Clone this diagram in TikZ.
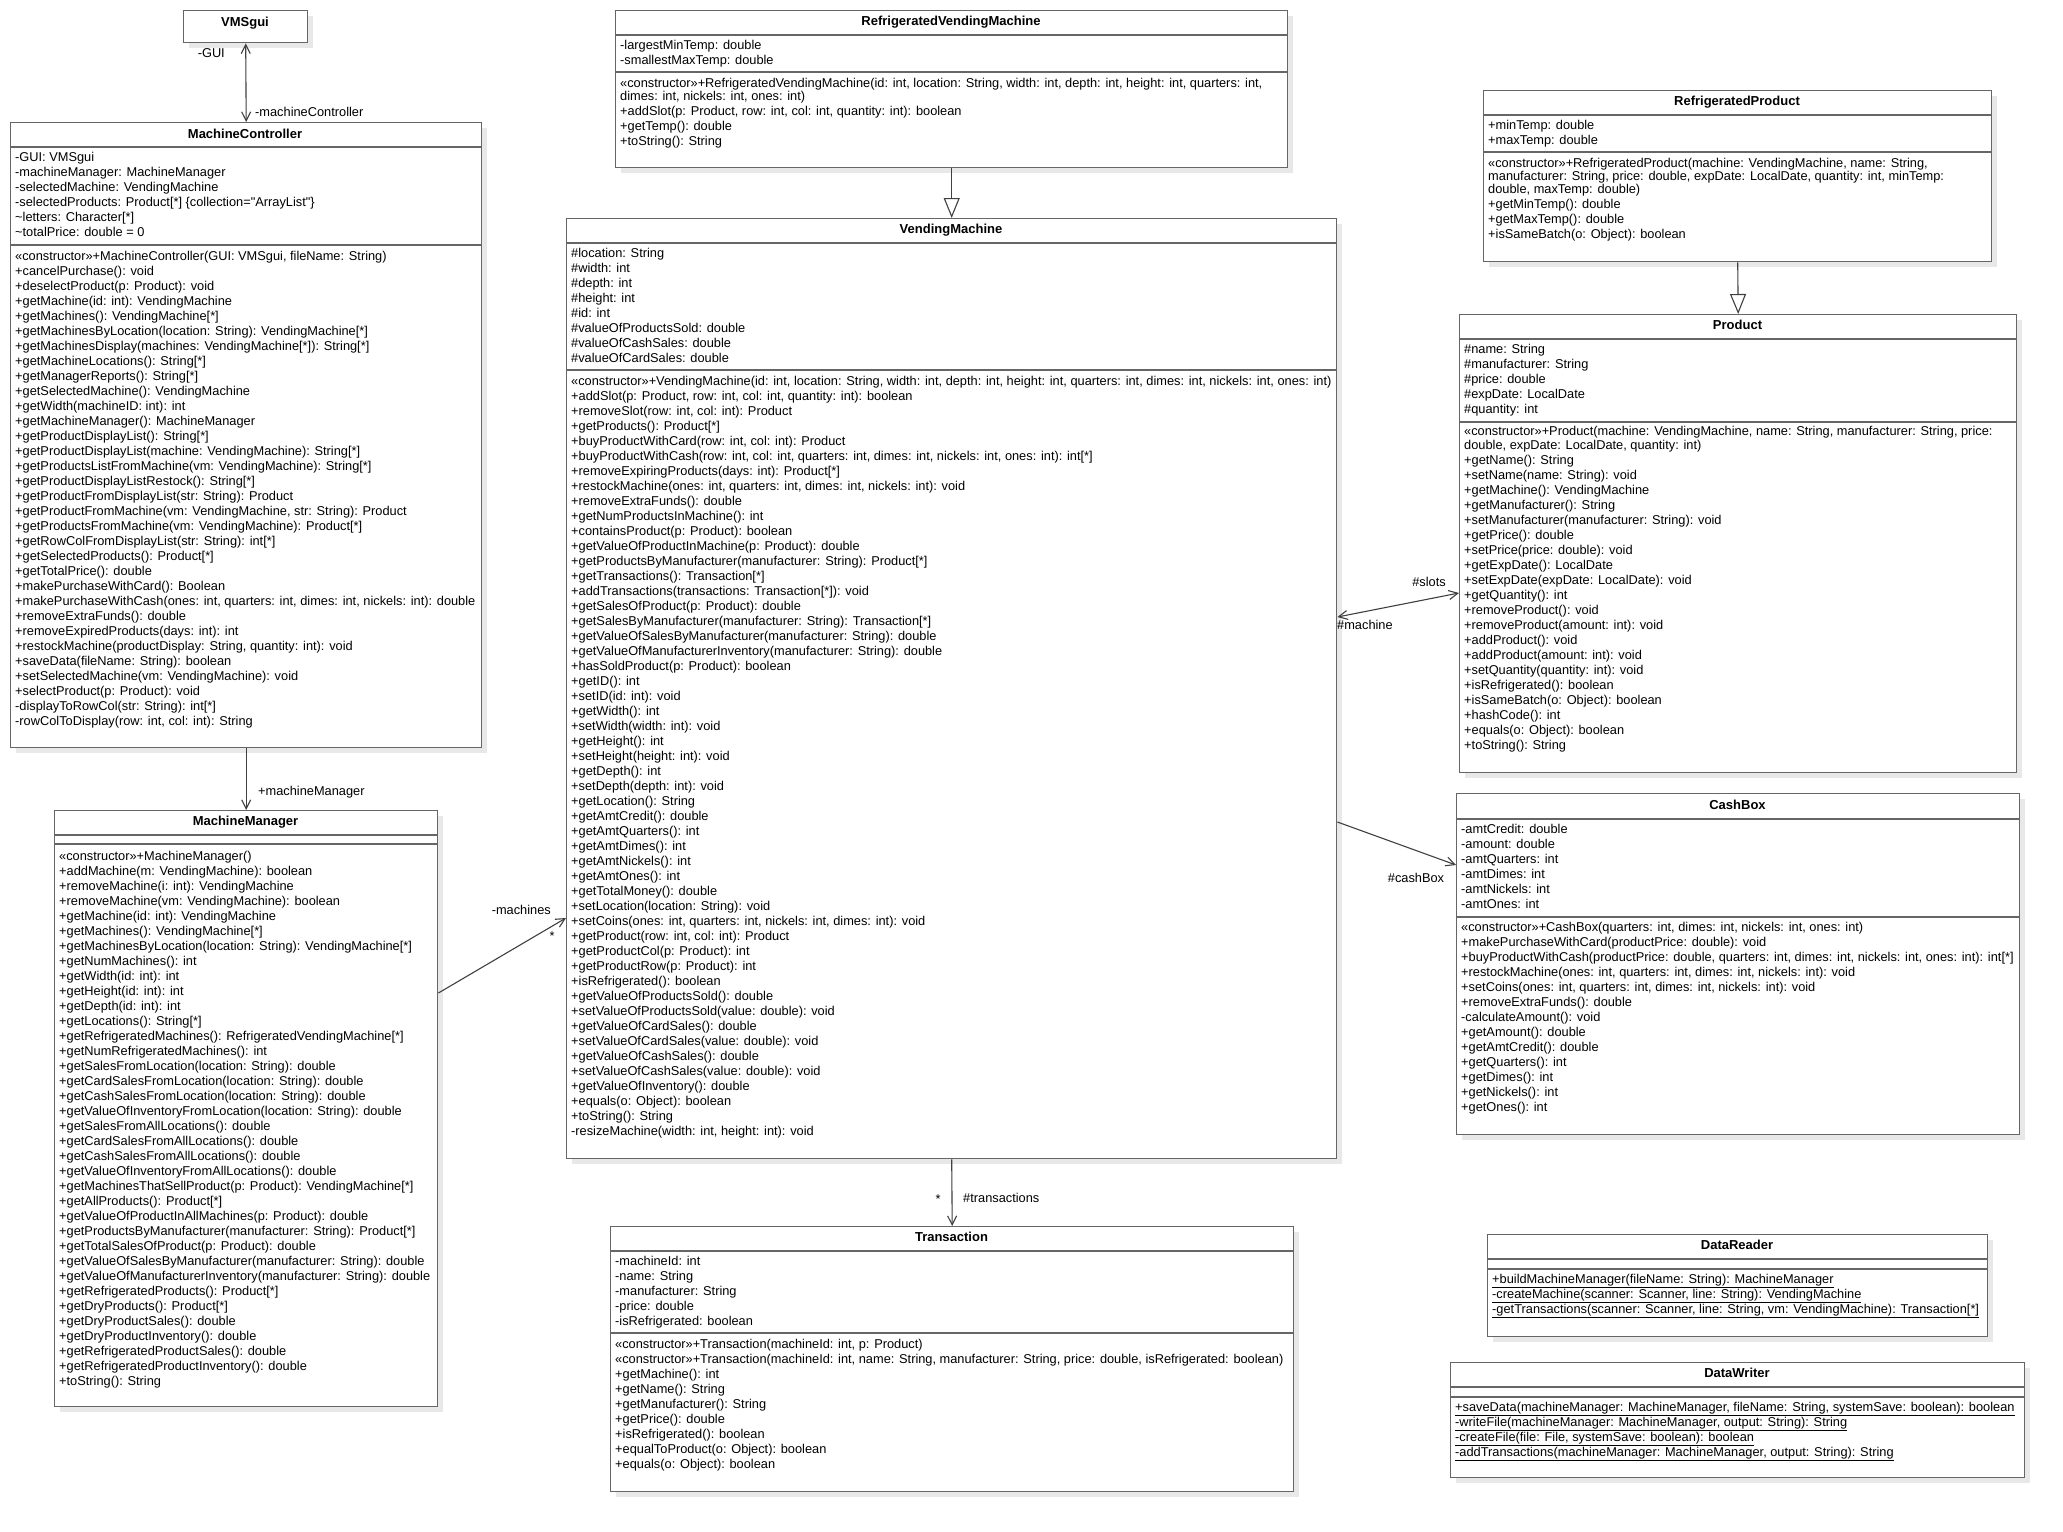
\documentclass[tikz,border=0pt]{standalone}
\usepackage{fontspec}
\setmainfont{Liberation Sans}
\usetikzlibrary{arrows.meta, shadows}

\begin{document}
\begin{tikzpicture}[%
        x = 1pt,
        y = -1pt,
        classbox/.style = {%
            draw = black!60,
            line width = 1.4pt,
            fill = white,
            drop shadow = {%
                shadow xshift = 5pt,
                shadow yshift = -5pt,
                fill = black!9,
                opacity = 1
            },
            inner sep = 0pt,
            anchor = north west
        },
        compartment/.style = {%
            draw = black!60,
            line width = 1.4pt
        },
        classname/.style = {%
            font = \bfseries\fontsize{13}{15}\selectfont,
            text height = 9pt,
            text depth = 2.5pt,
            inner sep = 0pt
        },
        members/.style = {%
            font = \fontsize{12.8}{15}\selectfont,
            align = left,
            inner sep = 0pt,
            anchor = north west
        },
        rolelabel/.style = {%
            font = \fontsize{12.8}{15}\selectfont,
            text height = 9pt,
            text depth = 2.5pt,
            inner sep = 0pt
        },
        assoc/.style = {%
            draw = black!75,
            line width = 1.1pt,
            -{Straight Barb[length = 9pt, width = 9pt]}
        },
        biassoc/.style = {%
            draw = black!75,
            line width = 1.1pt,
            {Straight Barb[length = 9pt, width = 9pt]}-{Straight Barb[length = 9pt, width = 9pt]}
        },
        generalize/.style = {%
            draw = black!75,
            line width = 1.1pt,
            -{Triangle[open, length = 20pt, width = 16pt]}
        }
    ]

        % Page with the margins of the reference.
        \fill[white] (0, 0) rectangle (2063, 1531);
        \useasboundingbox (0, 0) rectangle (2063, 1531);

        % VMSgui.
        \node[classbox, minimum width = 124pt, minimum height = 32pt] (vmsgui) at (183, 10) {};
        \node[classname] (vmsguiname) at (245, 23) {VMSgui};

        % MachineController.
        \node[classbox, minimum width = 471pt, minimum height = 625pt] (mc) at (10, 122) {};
        \draw[compartment] (10, 147) -- (481, 147);
        \draw[compartment] (10, 245) -- (481, 245);
        \node[classname] (mcname) at (245, 135) {MachineController};
        \node[members] (mcattr) at (15, 152) {%
            -GUI: VMSgui\\
            -machineManager: MachineManager\\
            -selectedMachine: VendingMachine\\
            -selectedProducts: Product[*] \{collection=\textquotedbl ArrayList\textquotedbl\}\\
            \textasciitilde letters: Character[*]\\
            \textasciitilde totalPrice: double = 0};
        \node[members] (mcops) at (15, 251) {%
            «constructor»+MachineController(GUI: VMSgui, fileName: String)\\
            +cancelPurchase(): void\\
            +deselectProduct(p: Product): void\\
            +getMachine(id: int): VendingMachine\\
            +getMachines(): VendingMachine[*]\\
            +getMachinesByLocation(location: String): VendingMachine[*]\\
            +getMachinesDisplay(machines: VendingMachine[*]): String[*]\\
            +getMachineLocations(): String[*]\\
            +getManagerReports(): String[*]\\
            +getSelectedMachine(): VendingMachine\\
            +getWidth(machineID: int): int\\
            +getMachineManager(): MachineManager\\
            +getProductDisplayList(): String[*]\\
            +getProductDisplayList(machine: VendingMachine): String[*]\\
            +getProductsListFromMachine(vm: VendingMachine): String[*]\\
            +getProductDisplayListRestock(): String[*]\\
            +getProductFromDisplayList(str: String): Product\\
            +getProductFromMachine(vm: VendingMachine, str: String): Product\\
            +getProductsFromMachine(vm: VendingMachine): Product[*]\\
            +getRowColFromDisplayList(str: String): int[*]\\
            +getSelectedProducts(): Product[*]\\
            +getTotalPrice(): double\\
            +makePurchaseWithCard(): Boolean\\
            +makePurchaseWithCash(ones: int, quarters: int, dimes: int, nickels: int): double\\
            +removeExtraFunds(): double\\
            +removeExpiredProducts(days: int): int\\
            +restockMachine(productDisplay: String, quantity: int): void\\
            +saveData(fileName: String): boolean\\
            +setSelectedMachine(vm: VendingMachine): void\\
            +selectProduct(p: Product): void\\
            -displayToRowCol(str: String): int[*]\\
            -rowColToDisplay(row: int, col: int): String};

        % MachineManager.
        \node[classbox, minimum width = 383pt, minimum height = 596pt] (mm) at (54, 810) {};
        \draw[compartment] (54, 835) -- (437, 835);
        \draw[compartment] (54, 844) -- (437, 844);
        \node[classname] (mmname) at (245.5, 822) {MachineManager};
        \node[members] (mmops) at (59, 851) {%
            «constructor»+MachineManager()\\
            +addMachine(m: VendingMachine): boolean\\
            +removeMachine(i: int): VendingMachine\\
            +removeMachine(vm: VendingMachine): boolean\\
            +getMachine(id: int): VendingMachine\\
            +getMachines(): VendingMachine[*]\\
            +getMachinesByLocation(location: String): VendingMachine[*]\\
            +getNumMachines(): int\\
            +getWidth(id: int): int\\
            +getHeight(id: int): int\\
            +getDepth(id: int): int\\
            +getLocations(): String[*]\\
            +getRefrigeratedMachines(): RefrigeratedVendingMachine[*]\\
            +getNumRefrigeratedMachines(): int\\
            +getSalesFromLocation(location: String): double\\
            +getCardSalesFromLocation(location: String): double\\
            +getCashSalesFromLocation(location: String): double\\
            +getValueOfInventoryFromLocation(location: String): double\\
            +getSalesFromAllLocations(): double\\
            +getCardSalesFromAllLocations(): double\\
            +getCashSalesFromAllLocations(): double\\
            +getValueOfInventoryFromAllLocations(): double\\
            +getMachinesThatSellProduct(p: Product): VendingMachine[*]\\
            +getAllProducts(): Product[*]\\
            +getValueOfProductInAllMachines(p: Product): double\\
            +getProductsByManufacturer(manufacturer: String): Product[*]\\
            +getTotalSalesOfProduct(p: Product): double\\
            +getValueOfSalesByManufacturer(manufacturer: String): double\\
            +getValueOfManufacturerInventory(manufacturer: String): double\\
            +getRefrigeratedProducts(): Product[*]\\
            +getDryProducts(): Product[*]\\
            +getDryProductSales(): double\\
            +getDryProductInventory(): double\\
            +getRefrigeratedProductSales(): double\\
            +getRefrigeratedProductInventory(): double\\
            +toString(): String};

        % RefrigeratedVendingMachine.
        \node[classbox, minimum width = 672pt, minimum height = 157pt] (rvm) at (615, 10) {};
        \draw[compartment] (615, 35) -- (1287, 35);
        \draw[compartment] (615, 72) -- (1287, 72);
        \node[classname] (rvmname) at (951, 22) {RefrigeratedVendingMachine};
        \node[members] (rvmattr) at (620, 40) {%
            -largestMinTemp: double\\
            -smallestMaxTemp: double};
        \node[members] (rvmops) at (620, 78) {%
            «constructor»+RefrigeratedVendingMachine(id: int, location: String, width: int, depth: int, height: int, quarters: int,\\[-2pt]
            dimes: int, nickels: int, ones: int)\\
            +addSlot(p: Product, row: int, col: int, quantity: int): boolean\\
            +getTemp(): double\\
            +toString(): String};

        % VendingMachine.
        \node[classbox, minimum width = 770pt, minimum height = 940pt] (vm) at (566, 218) {};
        \draw[compartment] (566, 243) -- (1336, 243);
        \draw[compartment] (566, 370) -- (1336, 370);
        \node[classname] (vmname) at (951, 230) {VendingMachine};
        \node[members] (vmattr) at (571, 248) {%
            \#location: String\\
            \#width: int\\
            \#depth: int\\
            \#height: int\\
            \#id: int\\
            \#valueOfProductsSold: double\\
            \#valueOfCashSales: double\\
            \#valueOfCardSales: double};
        \node[members] (vmops) at (571, 376) {%
            «constructor»+VendingMachine(id: int, location: String, width: int, depth: int, height: int, quarters: int, dimes: int, nickels: int, ones: int)\\
            +addSlot(p: Product, row: int, col: int, quantity: int): boolean\\
            +removeSlot(row: int, col: int): Product\\
            +getProducts(): Product[*]\\
            +buyProductWithCard(row: int, col: int): Product\\
            +buyProductWithCash(row: int, col: int, quarters: int, dimes: int, nickels: int, ones: int): int[*]\\
            +removeExpiringProducts(days: int): Product[*]\\
            +restockMachine(ones: int, quarters: int, dimes: int, nickels: int): void\\
            +removeExtraFunds(): double\\
            +getNumProductsInMachine(): int\\
            +containsProduct(p: Product): boolean\\
            +getValueOfProductInMachine(p: Product): double\\
            +getProductsByManufacturer(manufacturer: String): Product[*]\\
            +getTransactions(): Transaction[*]\\
            +addTransactions(transactions: Transaction[*]): void\\
            +getSalesOfProduct(p: Product): double\\
            +getSalesByManufacturer(manufacturer: String): Transaction[*]\\
            +getValueOfSalesByManufacturer(manufacturer: String): double\\
            +getValueOfManufacturerInventory(manufacturer: String): double\\
            +hasSoldProduct(p: Product): boolean\\
            +getID(): int\\
            +setID(id: int): void\\
            +getWidth(): int\\
            +setWidth(width: int): void\\
            +getHeight(): int\\
            +setHeight(height: int): void\\
            +getDepth(): int\\
            +setDepth(depth: int): void\\
            +getLocation(): String\\
            +getAmtCredit(): double\\
            +getAmtQuarters(): int\\
            +getAmtDimes(): int\\
            +getAmtNickels(): int\\
            +getAmtOnes(): int\\
            +getTotalMoney(): double\\
            +setLocation(location: String): void\\
            +setCoins(ones: int, quarters: int, nickels: int, dimes: int): void\\
            +getProduct(row: int, col: int): Product\\
            +getProductCol(p: Product): int\\
            +getProductRow(p: Product): int\\
            +isRefrigerated(): boolean\\
            +getValueOfProductsSold(): double\\
            +setValueOfProductsSold(value: double): void\\
            +getValueOfCardSales(): double\\
            +setValueOfCardSales(value: double): void\\
            +getValueOfCashSales(): double\\
            +setValueOfCashSales(value: double): void\\
            +getValueOfInventory(): double\\
            +equals(o: Object): boolean\\
            +toString(): String\\
            -resizeMachine(width: int, height: int): void};

        % RefrigeratedProduct.
        \node[classbox, minimum width = 508pt, minimum height = 171pt] (rp) at (1483, 90) {};
        \draw[compartment] (1483, 115) -- (1991, 115);
        \draw[compartment] (1483, 152) -- (1991, 152);
        \node[classname] (rpname) at (1737, 102) {RefrigeratedProduct};
        \node[members] (rpattr) at (1488, 120) {%
            +minTemp: double\\
            +maxTemp: double};
        \node[members] (rpops) at (1488, 158) {%
            «constructor»+RefrigeratedProduct(machine: VendingMachine, name: String,\\[-2pt]
            manufacturer: String, price: double, expDate: LocalDate, quantity: int, minTemp:\\[-2pt]
            double, maxTemp: double)\\
            +getMinTemp(): double\\
            +getMaxTemp(): double\\
            +isSameBatch(o: Object): boolean};

        % Product.
        \node[classbox, minimum width = 557pt, minimum height = 458pt] (prod) at (1459, 314) {};
        \draw[compartment] (1459, 339) -- (2016, 339);
        \draw[compartment] (1459, 422) -- (2016, 422);
        \node[classname] (prodname) at (1737.5, 326) {Product};
        \node[members] (prodattr) at (1464, 344) {%
            \#name: String\\
            \#manufacturer: String\\
            \#price: double\\
            \#expDate: LocalDate\\
            \#quantity: int};
        \node[members] (prodops) at (1464, 426) {%
            «constructor»+Product(machine: VendingMachine, name: String, manufacturer: String, price:\\[-1pt]
            double, expDate: LocalDate, quantity: int)\\
            +getName(): String\\
            +setName(name: String): void\\
            +getMachine(): VendingMachine\\
            +getManufacturer(): String\\
            +setManufacturer(manufacturer: String): void\\
            +getPrice(): double\\
            +setPrice(price: double): void\\
            +getExpDate(): LocalDate\\
            +setExpDate(expDate: LocalDate): void\\
            +getQuantity(): int\\
            +removeProduct(): void\\
            +removeProduct(amount: int): void\\
            +addProduct(): void\\
            +addProduct(amount: int): void\\
            +setQuantity(quantity: int): void\\
            +isRefrigerated(): boolean\\
            +isSameBatch(o: Object): boolean\\
            +hashCode(): int\\
            +equals(o: Object): boolean\\
            +toString(): String};

        % CashBox.
        \node[classbox, minimum width = 563pt, minimum height = 341pt] (cb) at (1456, 793) {};
        \draw[compartment] (1456, 819) -- (2019, 819);
        \draw[compartment] (1456, 917) -- (2019, 917);
        \node[classname] (cbname) at (1737.5, 806) {CashBox};
        \node[members] (cbattr) at (1461, 824) {%
            -amtCredit: double\\
            -amount: double\\
            -amtQuarters: int\\
            -amtDimes: int\\
            -amtNickels: int\\
            -amtOnes: int};
        \node[members] (cbops) at (1461, 922) {%
            «constructor»+CashBox(quarters: int, dimes: int, nickels: int, ones: int)\\
            +makePurchaseWithCard(productPrice: double): void\\
            +buyProductWithCash(productPrice: double, quarters: int, dimes: int, nickels: int, ones: int): int[*]\\
            +restockMachine(ones: int, quarters: int, dimes: int, nickels: int): void\\
            +setCoins(ones: int, quarters: int, dimes: int, nickels: int): void\\
            +removeExtraFunds(): double\\
            -calculateAmount(): void\\
            +getAmount(): double\\
            +getAmtCredit(): double\\
            +getQuarters(): int\\
            +getDimes(): int\\
            +getNickels(): int\\
            +getOnes(): int};

        % Transaction.
        \node[classbox, minimum width = 683pt, minimum height = 265pt] (tr) at (610, 1226) {};
        \draw[compartment] (610, 1251) -- (1293, 1251);
        \draw[compartment] (610, 1333) -- (1293, 1333);
        \node[classname] (trname) at (951.5, 1238) {Transaction};
        \node[members] (trattr) at (615, 1256) {%
            -machineId: int\\
            -name: String\\
            -manufacturer: String\\
            -price: double\\
            -isRefrigerated: boolean};
        \node[members] (trops) at (615, 1339) {%
            «constructor»+Transaction(machineId: int, p: Product)\\
            «constructor»+Transaction(machineId: int, name: String, manufacturer: String, price: double, isRefrigerated: boolean)\\
            +getMachine(): int\\
            +getName(): String\\
            +getManufacturer(): String\\
            +getPrice(): double\\
            +isRefrigerated(): boolean\\
            +equalToProduct(o: Object): boolean\\
            +equals(o: Object): boolean};

        % DataReader.
        \node[classbox, minimum width = 500pt, minimum height = 102pt] (dr) at (1487, 1234) {};
        \draw[compartment] (1487, 1259) -- (1987, 1259);
        \draw[compartment] (1487, 1269) -- (1987, 1269);
        \node[classname] (drname) at (1737, 1246) {DataReader};
        \node[members] (drops) at (1492, 1274) {%
            \underline{+buildMachineManager(fileName: String): MachineManager}\\
            \underline{-createMachine(scanner: Scanner, line: String): VendingMachine}\\
            \underline{-getTransactions(scanner: Scanner, line: String, vm: VendingMachine): Transaction[*]}};

        % DataWriter.
        \node[classbox, minimum width = 574pt, minimum height = 115pt] (dw) at (1450, 1362) {};
        \draw[compartment] (1450, 1387) -- (2024, 1387);
        \draw[compartment] (1450, 1397) -- (2024, 1397);
        \node[classname] (dwname) at (1737, 1374) {DataWriter};
        \node[members] (dwops) at (1455, 1402) {%
            \underline{+saveData(machineManager: MachineManager, fileName: String, systemSave: boolean): boolean}\\
            \underline{-writeFile(machineManager: MachineManager, output: String): String}\\
            \underline{-createFile(file: File, systemSave: boolean): boolean}\\
            \underline{-addTransactions(machineManager: MachineManager, output: String): String}};

        % Associations between the classes.
        \draw[biassoc] (vmsgui.south) -- (mc.north);
        \draw[assoc] (mc.south) -- (mm.north);
        \draw[assoc] ([yshift = -183pt]mm.north east) -- ([yshift = -700pt]vm.north west);
        \draw[assoc] (vm.south) -- (tr.north);
        \draw[biassoc] ([yshift = -399pt]vm.north east) -- ([yshift = -279pt]prod.north west);
        \draw[assoc] ([yshift = -604pt]vm.north east) -- ([yshift = -72pt]cb.north west);

        % Generalizations.
        \draw[generalize] (rvm.south) -- (vm.north);
        \draw[generalize] (rp.south) -- (prod.north);

        % Role names and multiplicities.
        \node[rolelabel, anchor = east] (guilbl) at (225, 54) {-GUI};
        \node[rolelabel, anchor = west] (mclbl) at (255, 113) {-machineController};
        \node[rolelabel, anchor = west] (mmlbl) at (258, 792) {+machineManager};
        \node[rolelabel, anchor = east] (machineslbl) at (551, 911) {-machines};
        \node[rolelabel] (machinesmult) at (552, 937) {*};
        \node[rolelabel] (transmult) at (938, 1200) {*};
        \node[rolelabel, anchor = west] (translbl) at (963, 1199) {\#transactions};
        \node[rolelabel] (slotslbl) at (1429, 583) {\#slots};
        \node[rolelabel, anchor = west] (machinelbl) at (1337, 626) {\#machine};
        \node[rolelabel] (cashboxlbl) at (1416, 879) {\#cashBox};
    \end{tikzpicture}
\end{document}
